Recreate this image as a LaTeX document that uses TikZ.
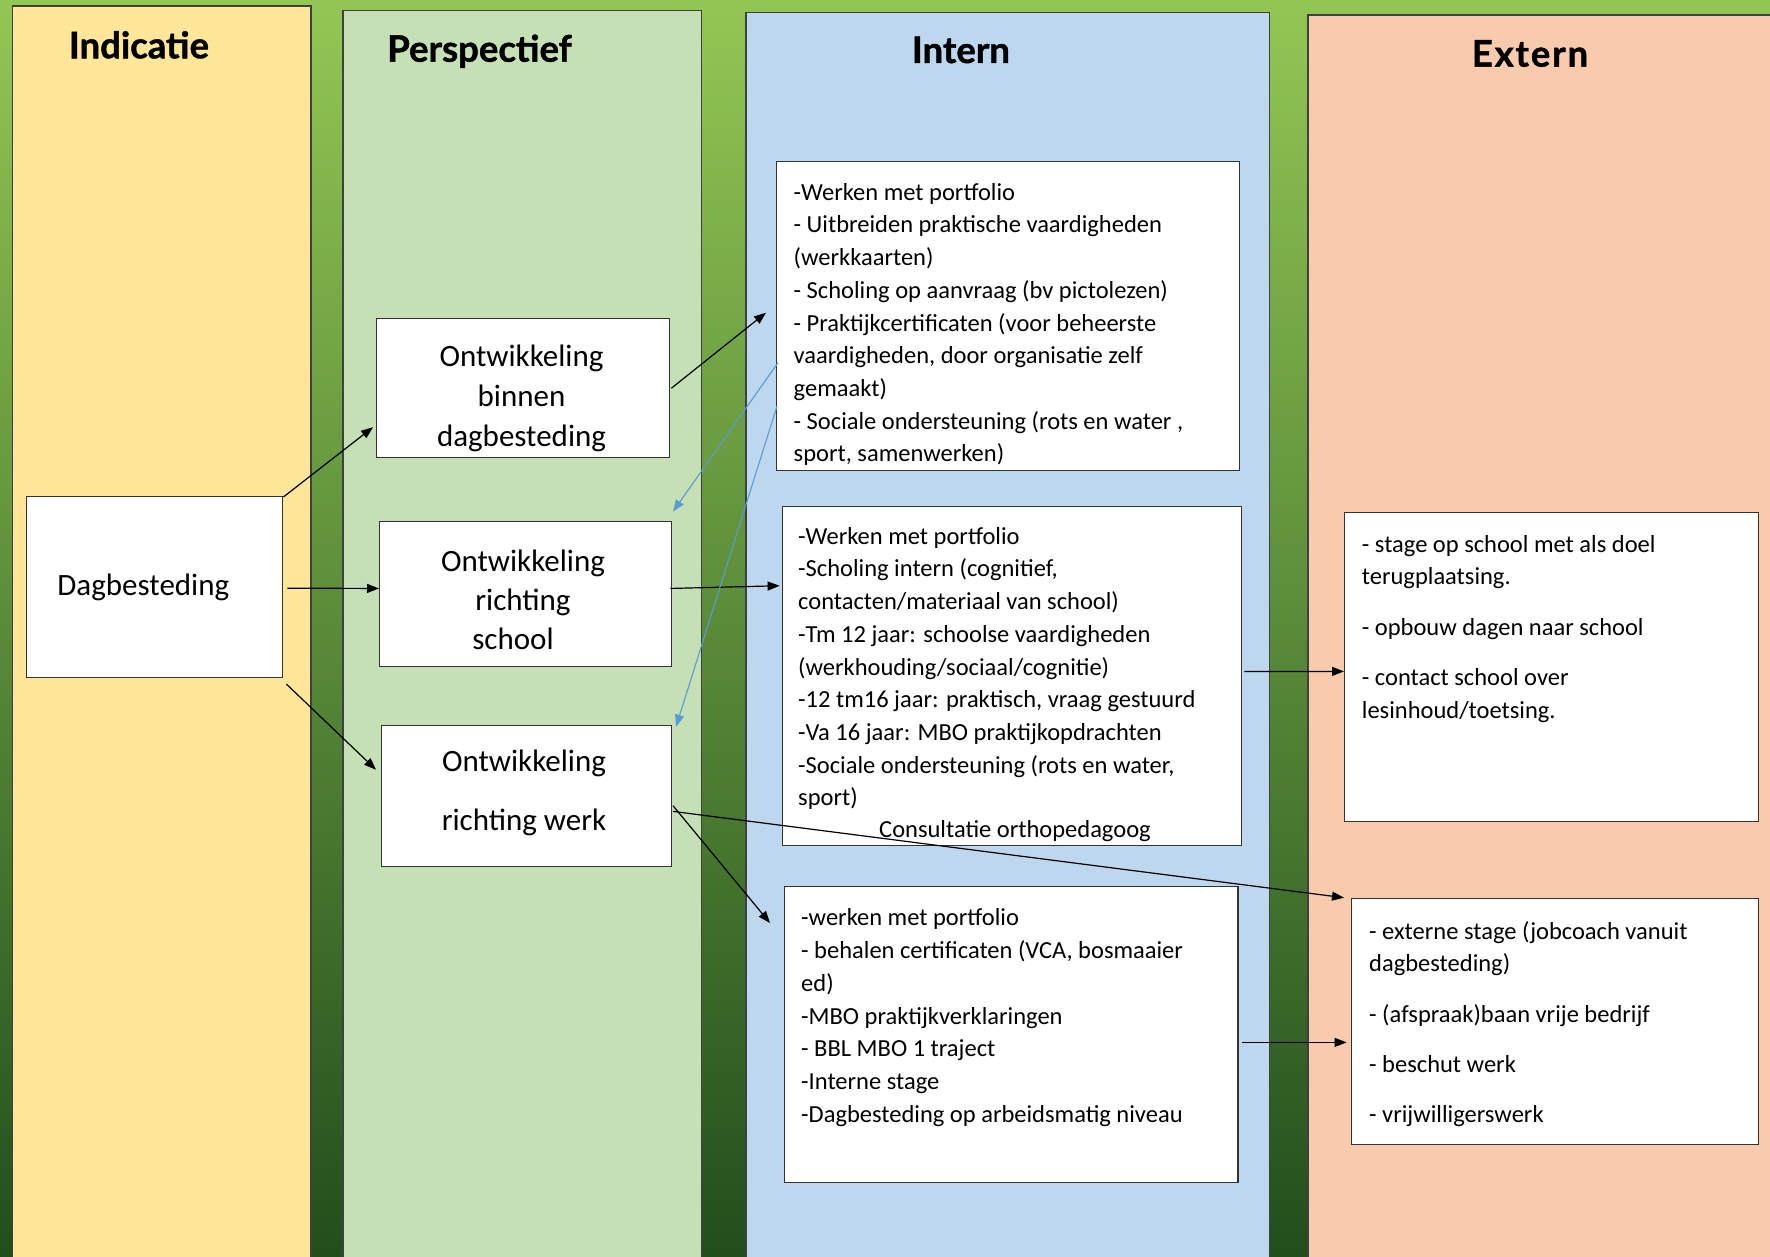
\documentclass[tikz,border=0pt]{standalone}
\usepackage{fontspec}
\setmainfont{Carlito}
\newfontfamily\titlefont{Lato}[FakeBold=1.2]
\usetikzlibrary{arrows.meta}
\definecolor{indc}{RGB}{255,230,153}
\definecolor{perc}{RGB}{197,224,180}
\definecolor{intc}{RGB}{189,215,238}
\definecolor{extc}{RGB}{248,203,173}
\definecolor{gtop}{RGB}{146,199,84}
\definecolor{gmid}{RGB}{112,165,64}
\definecolor{gbot}{RGB}{34,78,28}
\definecolor{bluearr}{RGB}{91,155,213}
\begin{document}
\begin{tikzpicture}[x=1pt,y=-1pt,
  col/.style={draw=black!75, line width=1.2pt},
  wbox/.style={draw=black!80, fill=white, line width=1.4pt, rectangle, inner sep=0pt, anchor=north west},
  coltitle/.style={font=\titlefont\bfseries\fontsize{36.5}{40}\selectfont, anchor=base, inner sep=0pt},
  bodytxt/.style={font=\fontsize{24.5}{32.7}\selectfont, align=left, anchor=north west, inner sep=0pt},
  bigtxt/.style={font=\fontsize{31}{39.5}\selectfont, align=center, inner sep=0pt},
  blk/.style={-{Triangle[length=12pt,width=9pt]}, line width=1.2pt, black},
  blu/.style={-{Triangle[length=12pt,width=9pt]}, line width=1.1pt, bluearr},
]
\useasboundingbox (0,0) rectangle (1770,1257);
\shade[top color=gtop, middle color=gmid, bottom color=gbot] (0,0) rectangle (1770,1257);

% columns
\draw[col, fill=indc] (12.6,6) rectangle (311,1270);
\draw[col, fill=perc] (343,10.7) rectangle (701.5,1270);
\draw[col, fill=intc] (746,12.7) rectangle (1269.6,1270);
\draw[col, fill=extc] (1308,15) rectangle (1785,1270);

% titles
\node[coltitle] (tInd) at (139,58.3) {Indicatie};
\node[coltitle] (tPer) at (479.5,61.7) {Perspectief};
\node[coltitle] (tInt) at (961,63) {Intern};
\node[coltitle] (tExt) at (1530,66.6) {\addfontfeature{LetterSpace=5}Extern};

% boxes
\node[wbox, minimum width=256.2pt, minimum height=181pt] (dag) at (25.8,496) {};
\node[wbox, minimum width=293pt, minimum height=139pt] (pb) at (376,318) {};
\node[wbox, minimum width=291.5pt, minimum height=145.3pt] (ps) at (379,520.7) {};
\node[wbox, minimum width=290pt, minimum height=141pt] (pw) at (380.6,725) {};
\node[wbox, minimum width=462.5pt, minimum height=309pt] (i1) at (776,161) {};
\node[wbox, minimum width=458.7pt, minimum height=339.3pt] (i2) at (782,505.7) {};
\node[wbox, minimum width=453.4pt, minimum height=296pt] (i3) at (784,885.7) {};
\node[wbox, minimum width=413.5pt, minimum height=309pt] (e1) at (1344,511.7) {};
\node[wbox, minimum width=407pt, minimum height=246.3pt] (e2) at (1350.6,897.7) {};

% box texts
\node[bigtxt, anchor=base] (dagT) at (143.3,595) {Dagbesteding};
\node[bigtxt, anchor=north, font=\fontsize{31}{40}\selectfont] (pbT) at (521.5,338.7)
  {\strut Ontwikkeling\\binnen\\dagbesteding};
\node[bigtxt, anchor=north, font=\fontsize{31}{38.8}\selectfont] (psT) at (523,544.5)
  {\strut Ontwikkeling\\richting\\school\hspace*{20pt}};
\node[bigtxt, anchor=north] (pwT) at (524,744.05)
  {\strut Ontwikkeling\\[18.8pt]richting werk};

\node[bodytxt] (i1T) at (793.5,177.11) {\strut -Werken met portfolio\\
- Uitbreiden praktische vaardigheden\\
(werkkaarten)\\
- Scholing op aanvraag (bv pictolezen)\\
- Praktijkcertificaten (voor beheerste\\
vaardigheden, door organisatie zelf\\
gemaakt)\\
- Sociale ondersteuning (rots en water ,\\
sport, samenwerken)};

\node[bodytxt] (i2T) at (798,521.11) {\strut -Werken met portfolio\\
-Scholing intern (cognitief,\\
contacten/materiaal van school)\\
-Tm 12 jaar: schoolse vaardigheden\\
(werkhouding/sociaal/cognitie)\\
-12 tm16 jaar: praktisch, vraag gestuurd\\
-Va 16 jaar: MBO praktijkopdrachten\\
-Sociale ondersteuning (rots en water,\\
sport)};
\node[font=\fontsize{24.5}{32.7}\selectfont, inner sep=0pt, anchor=base] (i2C) at (1015,837.5) {Consultatie orthopedagoog};

\node[bodytxt] (i3T) at (801,902.81) {\strut -werken met portfolio\\
- behalen certificaten (VCA, bosmaaier\\
ed)\\
-MBO praktijkverklaringen\\
- BBL MBO 1 traject\\
-Interne stage\\
-Dagbesteding op arbeidsmatig niveau};

\node[bodytxt] (e1T) at (1361.7,529.11) {\strut - stage op school met als doel\\
terugplaatsing.\\[17.6pt]
- opbouw dagen naar school\\[17.6pt]
- contact school over\\
lesinhoud/toetsing.};

\node[bodytxt] (e2T) at (1369,916.11) {\strut - externe stage (jobcoach vanuit\\
dagbesteding)\\[17.6pt]
- (afspraak)baan vrije bedrijf\\[17.6pt]
- beschut werk\\[17.6pt]
- vrijwilligerswerk};

% connectors
\draw[blk] ([shift={(0,1)}]dag.north east) -- ([shift={(-3,39)}]pb.west);
\draw[blk] ([shift={(4,1)}]dag.east) -- ([shift={(0,-5.6)}]ps.west);
\draw[blk] ([shift={(3,5.7)}]dag.south east) -- ([shift={(-4.6,-26.5)}]pw.west);
\draw[blk] ([shift={(1,0)}]pb.east) -- ([shift={(-10,-3.5)}]i1.west);
\draw[blk] ([shift={(-1.5,-5.6)}]ps.east) -- ([shift={(-2.4,-90.3)}]i2.west);
\draw[blk] ([shift={(1,15.2)}]pw.east) -- ([shift={(-6.6,0)}]e2.north west);
\draw[blk] ([shift={(1,9.5)}]pw.east) -- ([shift={(-14,37.3)}]i3.north west);
\draw[blk] ([shift={(2.3,-4.6)}]i2.east) -- ([shift={(0,4.5)}]e1.west);
\draw[blk] ([shift={(3.6,8)}]i3.east) -- ([shift={(-4,20.85)}]e2.west);
\draw[blu] ([shift={(2,46.5)}]i1.west) -- ([shift={(1,-9)}]ps.north east);
\draw[blu] ([shift={(1,90)}]i1.west) -- ([shift={(4,1.7)}]pw.north east);
\end{tikzpicture}
\end{document}
